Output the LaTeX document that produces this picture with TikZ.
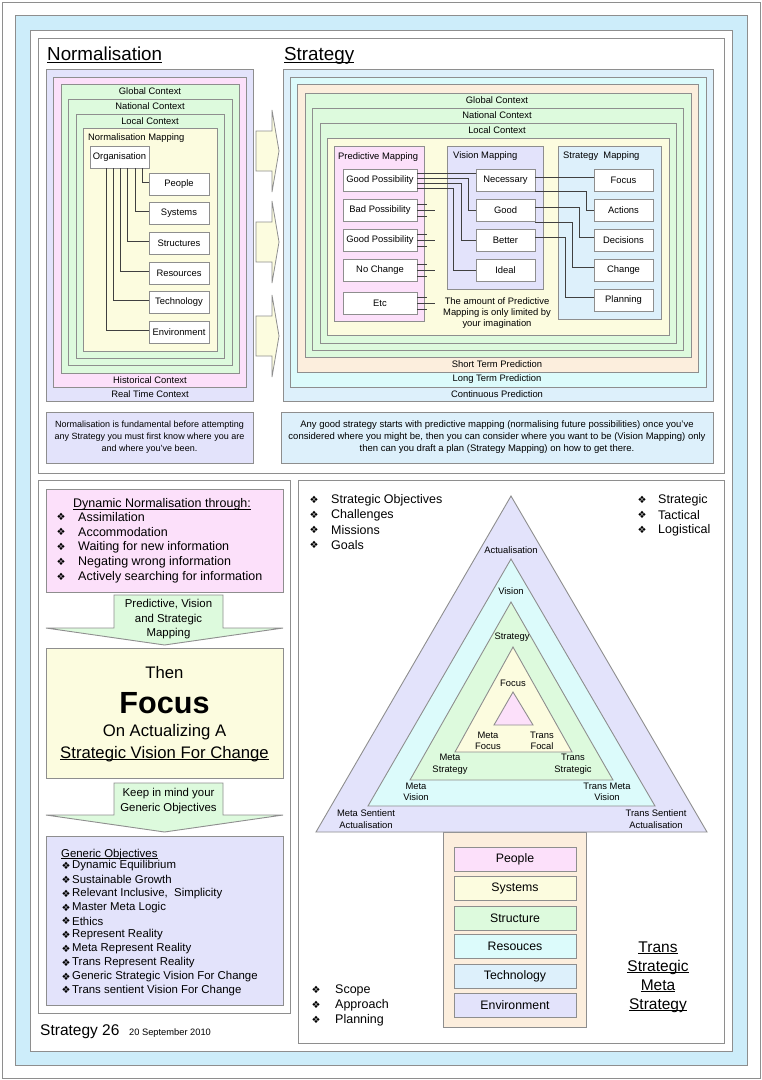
\documentclass[tikz,border=0pt]{standalone}
\usepackage{fontspec}
\setmainfont{Liberation Sans}
\newfontfamily\bulletfont{DejaVu Sans}
\usetikzlibrary{positioning}
\definecolor{framecol}{HTML}{CDEDFA}
\definecolor{lavcol}{HTML}{E3E3FB}
\definecolor{pinkcol}{HTML}{FCE0FA}
\definecolor{greencol}{HTML}{DDFADD}
\definecolor{yellowcol}{HTML}{FCFCDF}
\definecolor{peachcol}{HTML}{FCEEDD}
\definecolor{cyancol}{HTML}{DCFBFB}
\definecolor{bluecol}{HTML}{DDF0FB}
\definecolor{edgecol}{HTML}{8E8E8E}
\newcommand\ulbox[1]{\underline{\smash{#1}}}
\tikzset{
  panel/.style={draw=edgecol,line width=0.9pt},
  small/.style={font=\fontsize{9.4}{11.5}\selectfont,inner sep=0pt,align=center},
  box/.style={draw=edgecol,fill=white,line width=0.9pt,minimum height=22pt,inner sep=0pt,font=\fontsize{9.4}{11}\selectfont},
  wire/.style={draw=black!75,line width=0.55pt},
  bullet/.style={font=\bulletfont\fontsize{10}{10}\selectfont,inner sep=0pt},
  listtext/.style={font=\fontsize{12.5}{15}\selectfont,inner sep=0pt,anchor=west},
  objtext/.style={font=\fontsize{11.4}{13}\selectfont,inner sep=0pt,anchor=west},
}
\begin{document}
\begin{tikzpicture}[x=1pt,y=-1pt]
\useasboundingbox (0,0) rectangle (762,1080);
% frames
\draw[edgecol,fill=white] (2,2) rectangle (760,1078);
\draw[panel,fill=framecol] (15,15) rectangle (747,1065);
\draw[panel,fill=white] (30,30) rectangle (732,1051);
\draw[panel,fill=white] (38,38) rectangle (724,473);
\draw[panel,fill=white] (38,480) rectangle (290,1013);
\draw[panel,fill=white] (298,480) rectangle (724,1043);

% normalisation
\node[font=\fontsize{18.8}{20}\selectfont,anchor=base west,inner sep=0pt] (normtitle) at (47,60.8) {\ulbox{Normalisation}};
\draw[panel,fill=lavcol] (46,69) rectangle (253,401);
\draw[panel,fill=pinkcol] (53,77) rectangle (246,387);
\draw[panel,fill=greencol] (61,84) rectangle (239,373);
\draw[panel,fill=greencol] (68,99) rectangle (232,365);
\draw[panel,fill=greencol] (76,114) rectangle (224,358);
\draw[panel,fill=yellowcol] (83,128) rectangle (217,351);
\node[small] (nglobal) at (150,91) {Global Context};
\node[small] (nnational) at (150,106) {National Context};
\node[small] (nlocal) at (150,121) {Local Context};
\node[small,anchor=west] (nmap) at (88,138) {Normalisation Mapping};
\node[small] (nhist) at (150,380) {Historical Context};
\node[small] (nreal) at (150,394) {Real Time Context};

\node[box,minimum width=59pt] (org) at (119.5,157) {Organisation};
\foreach \name/\txt/\yy/\dx in {people/People/184/22.5, systems/Systems/213/15.5,
    structures/Structures/243/8, resources/Resources/273/0.5,
    technology/Technology/302/-6.5, environment/Environment/332/-13.5}{
  \node[box,minimum width=60pt] (\name) at (179,\yy) {\txt};
  \draw[wire] ([xshift=\dx pt]org.south) |- ([yshift=2pt]\name.west);
}

% arrows to strategy
\foreach \yy in {151,242,336}
  \draw[panel,line width=0.8pt,fill=yellowcol] (256,\yy-20) -- (272,\yy-20) -- (272,\yy-41)
    -- (279,\yy) -- (272,\yy+41) -- (272,\yy+20) -- (256,\yy+20) -- cycle;

% strategy
\node[font=\fontsize{18.8}{20}\selectfont,anchor=base west,inner sep=0pt] (strattitle) at (284,60.8) {\ulbox{Strategy}};
\draw[panel,fill=bluecol] (283,69) rectangle (713,401);
\draw[panel,fill=cyancol] (290,77) rectangle (706,387);
\draw[panel,fill=peachcol] (297,84) rectangle (698,372);
\draw[panel,fill=greencol] (305,93) rectangle (691,357);
\draw[panel,fill=greencol] (312,108) rectangle (683,350);
\draw[panel,fill=greencol] (320,123) rectangle (676,343);
\draw[panel,fill=yellowcol] (327,138) rectangle (669,335);
\node[small] (sglobal) at (497,100) {Global Context};
\node[small] (snational) at (497,115) {National Context};
\node[small] (slocal) at (497,130) {Local Context};
\node[small] (sshort) at (497,364) {Short Term Prediction};
\node[small] (slong) at (497,379) {Long Term Prediction};
\node[small] (scont) at (497,394) {Continuous Prediction};

\draw[panel,fill=pinkcol] (334,146) rectangle (424,321);
\draw[panel,fill=lavcol] (447,146) rectangle (543,289);
\draw[panel,fill=bluecol] (558,146) rectangle (661,319);
\node[small,anchor=west] (predlbl) at (338,157) {Predictive Mapping};
\node[small,anchor=west] (vislbl) at (453,156) {Vision Mapping};
\node[small,anchor=west] (stratlbl) at (563,156) {Strategy\ \ Mapping};

\foreach \name/\txt/\yy in {gp/Good Possibility/180, bp/Bad Possibility/210,
    gpb/Good Possibility/240, nochg/No Change/270, etc/Etc/303}
  \node[box,minimum width=74pt] (\name) at (380,\yy) {\txt};
\foreach \name/\txt/\yy in {nec/Necessary/180, good/Good/210, better/Better/240, ideal/Ideal/270}
  \node[box,minimum width=59pt] (\name) at (505.5,\yy) {\txt};
\foreach \name/\txt/\yy in {focus/Focus/180, actions/Actions/210, decisions/Decisions/240,
    change/Change/270, planning/Planning/300}
  \node[box,minimum width=59pt] (\name) at (623.5,\yy) {\txt};

\draw[wire] ([yshift=7pt]gp.east) -- ([yshift=7pt]nec.west);
\draw[wire] ([yshift=2pt]gp.east) -| ([xshift=-7pt]good.west) -- (good.west);
\draw[wire] ([yshift=-3pt]gp.east) -| ([xshift=-14pt]better.west) -- (better.west);
\draw[wire] ([yshift=-8pt]gp.east) -| ([xshift=-22pt]ideal.west) -- (ideal.west);
\foreach \name in {bp,gpb,nochg,etc}{
  \draw[wire] ([yshift=6pt]\name.east) -- ++(10,0);
  \draw[wire] (\name.east) -- ++(18,0);
  \draw[wire] ([yshift=-6pt]\name.east) -- ++(10,0);
}
\draw[wire] ([yshift=3pt]nec.east) -- ([yshift=3pt]focus.west);
\draw[wire] ([yshift=-11pt]nec.east) -| ([xshift=-7pt]actions.west) -- (actions.west);
\draw[wire] ([yshift=3pt]good.east) -| ([xshift=-14pt,yshift=3pt]decisions.west) -- ([yshift=3pt]decisions.west);
\draw[wire] ([yshift=-12pt]good.east) -| ([xshift=-21pt,yshift=3pt]change.west) -- ([yshift=3pt]change.west);
\draw[wire] ([yshift=3pt]better.east) -| ([xshift=-28pt,yshift=3pt]planning.west) -- ([yshift=3pt]planning.west);
\node[small,font=\fontsize{9.4}{11}\selectfont] (imagination) at (497,313) {The amount of Predictive\\Mapping is only limited by\\your imagination};

% notes
\node[panel,fill=lavcol,minimum width=207pt,minimum height=51pt,inner sep=0pt,align=center,
  font=\fontsize{9}{12}\selectfont] (normnote) at (149.5,437.5)
  {Normalisation is fundamental before attempting\\any Strategy you must first know where you are\\and where you’ve been.};
\node[panel,fill=bluecol,minimum width=432pt,minimum height=51pt,inner sep=0pt,align=center,
  font=\fontsize{9.5}{12}\selectfont] (stratnote) at (497,437.5)
  {Any good strategy starts with predictive mapping (normalising future possibilities) once you’ve\\considered where you might be, then you can consider where you want to be (Vision Mapping) only\\then can you draft a plan (Strategy Mapping) on how to get there.};

% dynamic normalisation
\draw[panel,fill=pinkcol] (46,489) rectangle (283,592);
\node[font=\fontsize{12.5}{15}\selectfont,inner sep=0pt,anchor=base] (dyntitle) at (162,507.5) {\ulbox{Dynamic Normalisation through:}};
\foreach \txt [count=\i] in {Assimilation, Accommodation, Waiting for new information,
    Negating wrong information, Actively searching for information}{
  \node[bullet] (dynb\i) at (61,502+15*\i) {❖};
  \node[listtext] (dyn\i) at (78,502+15*\i) {\txt};
}
\draw[panel,fill=greencol] (114,595) -- (223,595) -- (223,628) -- (283,628) -- (164.5,645)
  -- (46,628) -- (114,628) -- cycle;
\node[align=center,inner sep=0pt,font=\fontsize{11.4}{14.5}\selectfont] (mapping) at (168.5,619.5) {Predictive, Vision\\and Strategic\\Mapping};

\draw[panel,fill=yellowcol] (46,648) rectangle (283,778);
\node[font=\fontsize{16.7}{18}\selectfont,inner sep=0pt] (then) at (164.5,673) {Then};
\node[font=\bfseries\fontsize{30.6}{32}\selectfont,inner sep=0pt] (focusbig) at (164.5,703) {Focus};
\node[font=\fontsize{16.7}{18}\selectfont,inner sep=0pt] (actual) at (164.5,732) {On Actualizing A};
\node[font=\fontsize{16.7}{18}\selectfont,inner sep=0pt,anchor=base] (svfc) at (164.5,758) {\ulbox{Strategic Vision For Change}};

\draw[panel,fill=greencol] (114,783) -- (223,783) -- (223,815) -- (283,815) -- (164.5,832)
  -- (46,815) -- (114,815) -- cycle;
\node[align=center,inner sep=0pt,font=\fontsize{11.4}{15}\selectfont] (keep) at (168.5,801.5) {Keep in mind your\\Generic Objectives};

\draw[panel,fill=lavcol] (46,836) rectangle (283,1005);
\node[objtext,anchor=base west] (gentitle) at (61,857) {\ulbox{Generic Objectives}};
\foreach \txt [count=\i] in {Dynamic Equilibrium, Sustainable Growth, {Relevant Inclusive,\ \ Simplicity},
    Master Meta Logic, Ethics, Represent Reality, Meta Represent Reality, Trans Represent Reality,
    Generic Strategic Vision For Change, Trans sentient Vision For Change}{
  \node[bullet] (genb\i) at (66,852.2+13.8*\i) {❖};
  \node[objtext] (gen\i) at (72,852.2+13.8*\i) {\txt};
}
\node[anchor=base west,inner sep=0pt,font=\fontsize{15.5}{17}\selectfont] (sheet) at (40,1035) {Strategy 26};
\node[anchor=base west,inner sep=0pt,font=\fontsize{9.3}{11}\selectfont] (date) at (129,1035) {20 September 2010};

% triangles
\draw[panel,fill=peachcol] (443,832) rectangle (586,1027);
\draw[panel,fill=lavcol] (511,496) -- (707,832) -- (316,832) -- cycle;
\draw[panel,fill=cyancol] (511,559) -- (655,806) -- (368,806) -- cycle;
\draw[panel,fill=greencol] (511,602) -- (613,780) -- (410,780) -- cycle;
\draw[panel,fill=yellowcol] (513,647) -- (572,752) -- (455,752) -- cycle;
\draw[panel,fill=pinkcol] (513,692) -- (533,725) -- (494,725) -- cycle;
\node[small] (tact) at (511,550) {Actualisation};
\node[small] (tvis) at (511,591) {Vision};
\node[small] (tstr) at (512,637) {Strategy};
\node[small] (tfoc) at (513,683) {Focus};
\node[small] (metafoc) at (488,741) {Meta\\Focus};
\node[small] (transfoc) at (542,741) {Trans\\Focal};
\node[small] (metastr) at (450,764) {Meta\\Strategy};
\node[small] (transstr) at (573,764) {Trans\\Strategic};
\node[small] (metavis) at (416,792) {Meta\\Vision};
\node[small] (transvis) at (607,792) {Trans Meta\\Vision};
\node[small] (metasent) at (366,819) {Meta Sentient\\Actualisation};
\node[small] (transsent) at (656,819) {Trans Sentient\\Actualisation};

\foreach \name/\txt/\yy/\col in {ppl/People/859/pinkcol, sys/Systems/888/yellowcol,
    struc/Structure/918/greencol, res/Resouces/946/cyancol, tech/Technology/976/bluecol,
    env/Environment/1005/lavcol}
  \node[box,fill=\col,minimum width=122pt,minimum height=24pt,font=\fontsize{12.3}{14}\selectfont] (\name) at (515,\yy) {\txt};

\foreach \txt [count=\i] in {Strategic Objectives, Challenges, Missions, Goals}{
  \node[bullet] (objb\i) at (314,485+15*\i) {❖};
  \node[listtext] (obj\i) at (331,485+15*\i) {\txt};
}
\foreach \txt [count=\i] in {Strategic, Tactical, Logistical}{
  \node[bullet] (levb\i) at (642,485+15*\i) {❖};
  \node[listtext] (lev\i) at (658,485+15*\i) {\txt};
}
\foreach \txt [count=\i] in {Scope, Approach, Planning}{
  \node[bullet] (scb\i) at (316,975+15*\i) {❖};
  \node[listtext] (sc\i) at (335,975+15*\i) {\txt};
}
\node[align=center,inner sep=0pt,font=\fontsize{15.5}{19}\selectfont] (tsms) at (658,981.5)
  {\ulbox{Trans}\\\ulbox{Strategic}\\\ulbox{Meta}\\\ulbox{Strategy}};
\end{tikzpicture}
\end{document}
